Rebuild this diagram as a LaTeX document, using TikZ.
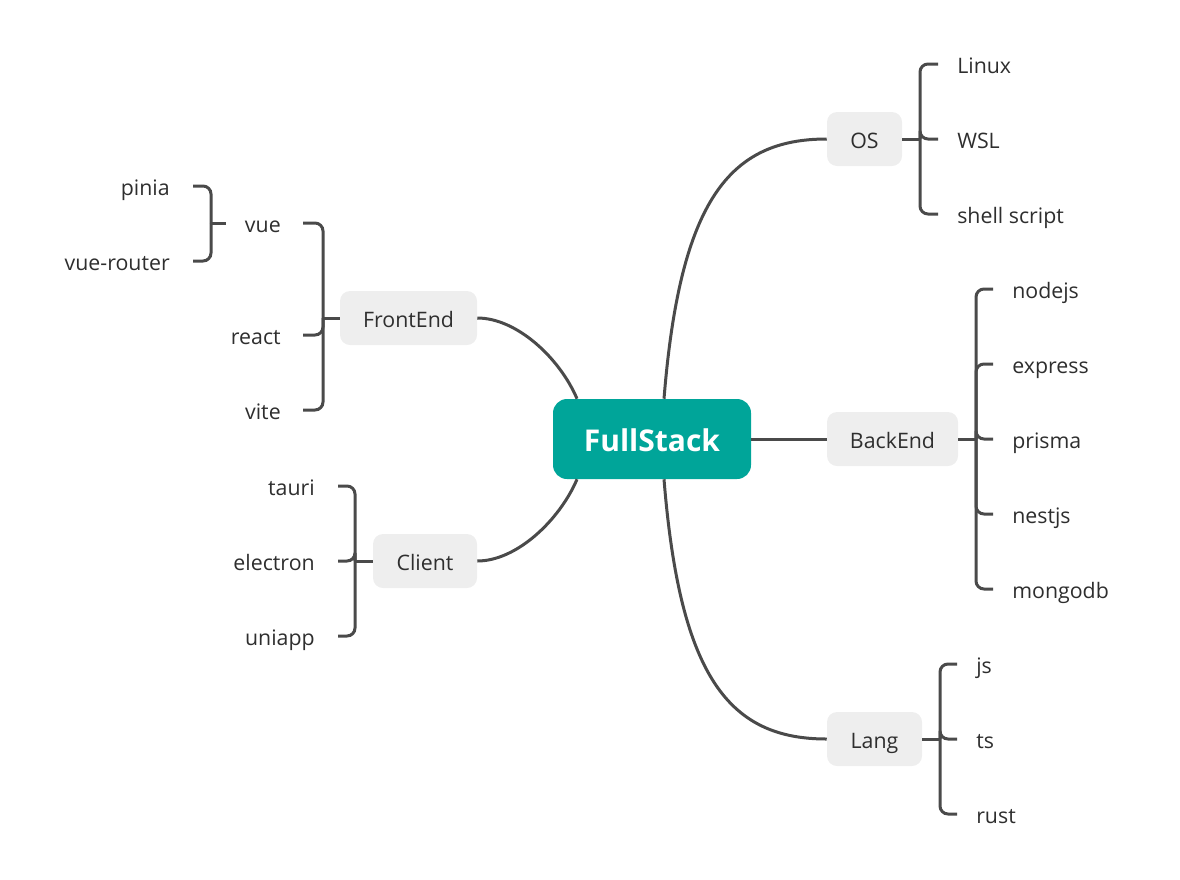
\documentclass[tikz,border=0pt]{standalone}
\usepackage{fontspec}
\setmainfont{Open Sans}
\usetikzlibrary{calc}
\definecolor{lineC}{HTML}{4A4A4A}
\definecolor{boxC}{HTML}{EEEEEE}
\definecolor{rootC}{HTML}{00A599}
\definecolor{txtC}{HTML}{2E2E2E}
\begin{document}
\begin{tikzpicture}[x=0.75pt,y=-0.75pt,
  conn/.style={draw=lineC, line width=2.25pt},
  branch/.style={conn, rounded corners=6pt},
  topic/.style={fill=boxC, rounded corners=7.5pt, minimum height=40.5pt, inner sep=0pt, text=txtC, font=\fontsize{16}{19}\selectfont, text height=13.5pt, text depth=0pt},
  leaf/.style={inner sep=0pt, text=txtC, font=\fontsize{16}{19}\selectfont, text height=13.5pt, text depth=0pt},
  root/.style={fill=rootC, rounded corners=10.5pt, minimum width=148.5pt, minimum height=60pt, inner sep=0pt, text=white, font=\bfseries\fontsize{22.5}{26}\selectfont, text height=19pt, text depth=0pt}]
\useasboundingbox (0,0) rectangle (1180,879);

% main topics
\node[root] (fs) at (652,439) {FullStack};
\node[topic, minimum width=56.25pt] (os) at (864.5,139) {OS};
\node[topic, minimum width=98.25pt] (be) at (892.5,439) {BackEnd};
\node[topic, minimum width=71.25pt] (lang) at (874.5,739) {Lang};
\node[topic, minimum width=102.75pt] (fe) at (408.5,318) {FrontEnd};
\node[topic, minimum width=78pt] (cl) at (425,561) {Client};

% leaves right
\node[leaf, anchor=west] (linux) at (957,64) {Linux};
\node[leaf, anchor=west] (wsl) at (957,139) {WSL};
\node[leaf, anchor=west] (shell) at (957,214) {shell script};
\node[leaf, anchor=west] (nodejs) at (1012,289) {nodejs};
\node[leaf, anchor=west] (express) at (1012,364) {express};
\node[leaf, anchor=west] (prisma) at (1012,439) {prisma};
\node[leaf, anchor=west] (nestjs) at (1012,514) {nestjs};
\node[leaf, anchor=west] (mongodb) at (1012,589) {mongodb};
\node[leaf, anchor=west] (js) at (976,664) {js};
\node[leaf, anchor=west] (ts) at (976,739) {ts};
\node[leaf, anchor=west] (rust) at (976,814) {rust};

% leaves left
\node[leaf, anchor=east] (vue) at (281,223) {vue};
\node[leaf, anchor=east] (react) at (281,335) {react};
\node[leaf, anchor=east] (vite) at (281,410) {vite};
\node[leaf, anchor=east] (pinia) at (170,186) {pinia};
\node[leaf, anchor=east] (vuer) at (170,261) {vue-router};
\node[leaf, anchor=east] (tauri) at (315,486) {tauri};
\node[leaf, anchor=east] (electron) at (315,561) {electron};
\node[leaf, anchor=east] (uniapp) at (315,636) {uniapp};

% curves from root
\draw[conn] ($(fs.north)+(12,0)$) .. controls +(16,-199) and +(-97,0) .. (os.west);
\draw[conn] ($(fs.south)+(12,0)$) .. controls +(16,199) and +(-97,0) .. (lang.west);
\draw[conn] ($(fs.north)+(-75,0)$) .. controls +(-17,-40) and +(40,0) .. (fe.east);
\draw[conn] ($(fs.south)+(-75,0)$) .. controls +(-17,40) and +(40,0) .. (cl.east);
\draw[conn] (fs.east) -- (be.west);

% junctions
\coordinate (osJ) at (920,139);
\coordinate (beJ) at (976,439);
\coordinate (langJ) at (940,739);
\coordinate (feJ) at (323,318);
\coordinate (vueJ) at (211,223);
\coordinate (clJ) at (355,561);

\draw[conn] (os.east) -- (osJ);
\foreach \c in {linux,wsl,shell} \draw[branch] (osJ) |- ($(\c.west)+(-19,0)$);
\draw[conn] (be.east) -- (beJ);
\foreach \c in {nodejs,express,prisma,nestjs,mongodb} \draw[branch] (beJ) |- ($(\c.west)+(-19,0)$);
\draw[conn] (lang.east) -- (langJ);
\foreach \c in {js,ts,rust} \draw[branch] (langJ) |- ($(\c.west)+(-19,0)$);

\draw[conn] (fe.west) -- (feJ);
\foreach \c in {vue,react,vite} \draw[branch] (feJ) |- ($(\c.east)+(22,0)$);
\draw[conn] ($(vue.west)+(-19,0)$) -- (vueJ);
\foreach \c in {pinia,vuer} \draw[branch] (vueJ) |- ($(\c.east)+(23,0)$);
\draw[conn] (cl.west) -- (clJ);
\foreach \c in {tauri,electron,uniapp} \draw[branch] (clJ) |- ($(\c.east)+(23,0)$);
\end{tikzpicture}
\end{document}
